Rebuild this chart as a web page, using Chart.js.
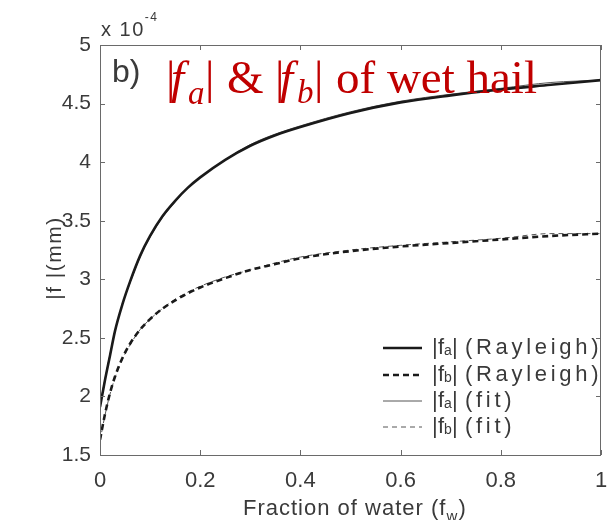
<!DOCTYPE html>
<html>
<head>
<meta charset="utf-8">
<script src="https://cdn.jsdelivr.net/npm/chart.js@4.4.1/dist/chart.umd.min.js"></script>
<style>
html,body{margin:0;padding:0;background:#fff;}
#wrap{width:608px;height:520px;}
</style>
</head>
<body>
<div id="wrap"><canvas id="c" width="608" height="520"></canvas></div>
<script>
// Data (values in units of 1e-4 mm)
const fractionWater = [0, 0.01, 0.02, 0.03, 0.045, 0.06, 0.08, 0.1, 0.125, 0.15, 0.175, 0.2, 0.25, 0.3, 0.35, 0.4, 0.5, 0.6, 0.7, 0.8, 0.9, 1.0];
const faRayleigh = [1.91, 2.14, 2.35, 2.56, 2.79, 2.98, 3.20, 3.37, 3.54, 3.67, 3.78, 3.87, 4.02, 4.14, 4.23, 4.30, 4.42, 4.51, 4.57, 4.62, 4.66, 4.70];
const fbRayleigh = [1.63, 1.85, 2.03, 2.17, 2.33, 2.45, 2.57, 2.66, 2.75, 2.82, 2.88, 2.93, 3.01, 3.08, 3.13, 3.18, 3.24, 3.28, 3.31, 3.34, 3.37, 3.39];
const faFit = [1.93, 2.15, 2.36, 2.56, 2.79, 2.97, 3.19, 3.36, 3.53, 3.66, 3.78, 3.87, 4.02, 4.15, 4.24, 4.31, 4.43, 4.52, 4.58, 4.63, 4.68, 4.70];
const fbFit = [1.62, 1.84, 2.02, 2.16, 2.32, 2.44, 2.57, 2.66, 2.75, 2.83, 2.89, 2.94, 3.02, 3.08, 3.14, 3.19, 3.25, 3.29, 3.32, 3.35, 3.39, 3.39];
const xTicks = [0, 0.2, 0.4, 0.6, 0.8, 1];
const yTicks = [1.5, 2, 2.5, 3, 3.5, 4, 4.5, 5];
const seriesLabels = [["f","a","(Rayleigh)"],["f","b","(Rayleigh)"],["f","a","(fit)"],["f","b","(fit)"]];

const pts = arr => fractionWater.map((x,i)=>({x:x,y:arr[i]}));
const TXT = '#3a3a3a';
const SANS = '"Liberation Sans", Arial, sans-serif';
const SERIF = '"Liberation Serif", "Times New Roman", serif';

const decor = {
  id:'decor',
  afterDraw(chart){
    const {ctx, chartArea:a, scales:{x,y}} = chart;
    ctx.save();
    ctx.letterSpacing = '0px';
    // box
    ctx.strokeStyle = '#6a6a6a';
    ctx.lineWidth = 1;
    ctx.strokeRect(a.left+0.5, a.top+0.5, a.right-a.left-1, a.bottom-a.top);
    // inward ticks
    ctx.beginPath();
    xTicks.forEach(v=>{
      const px = Math.round(x.getPixelForValue(v))+0.5;
      ctx.moveTo(px,a.bottom); ctx.lineTo(px,a.bottom-5);
      ctx.moveTo(px,a.top); ctx.lineTo(px,a.top+5);
    });
    yTicks.forEach(v=>{
      const py = Math.round(y.getPixelForValue(v))+0.5;
      ctx.moveTo(a.left,py); ctx.lineTo(a.left+5,py);
      ctx.moveTo(a.right,py); ctx.lineTo(a.right-5,py);
    });
    ctx.stroke();
    // exponent label
    ctx.fillStyle = TXT;
    ctx.textBaseline = 'alphabetic';
    ctx.textAlign = 'left';
    ctx.letterSpacing = '1.5px';
    ctx.font = '20px '+SANS;
    ctx.fillText('x 10', 101, 36);
    let w = ctx.measureText('x 10').width;
    ctx.font = '12px '+SANS;
    ctx.fillText('-4', 101+w, 21);
    // b)
    ctx.letterSpacing = '0px';
    ctx.font = '32px '+SANS;
    ctx.fillText('b)', 112, 82);
    // title
    ctx.fillStyle = '#c00000';
    const big = '47px '+SERIF;
    const bigI = 'italic 47px '+SERIF;
    const sub = 'italic 33px '+SERIF;
    const put = (t,f,px,py)=>{ctx.font=f; ctx.fillText(t,px,py);};
    const by = 93;
    put('|',big,166,by); put('f',bigI,171,by); put('a',sub,188,by+11); put('|',big,205,by);
    put('&',big,227,by);
    put('|',big,275,by); put('f',bigI,280,by); put('b',sub,297,by+10); put('|',big,314,by);
    put('of wet hail',big,336,by);
    // y axis title
    ctx.fillStyle = TXT;
    ctx.letterSpacing = '1.5px';
    ctx.save();
    ctx.translate(61, 258);
    ctx.rotate(-Math.PI/2);
    ctx.textAlign='center';
    ctx.font = '21px '+SANS;
    ctx.fillText('|f |(mm)', 0, 0);
    ctx.restore();
    // x axis title
    ctx.letterSpacing = '1px';
    ctx.font = '22px '+SANS;
    ctx.textAlign='left';
    const xt = 'Fraction of water (f';
    const xw = ctx.measureText(xt).width;
    const sx = 243;
    ctx.fillText(xt, sx, 515);
    ctx.font = '15px '+SANS;
    ctx.fillText('w', sx+xw, 521);
    ctx.font = '22px '+SANS;
    ctx.fillText(')', sx+xw+12, 515);
    // legend
    const ds = chart.data.datasets;
    const rows = [348, 375, 401, 427];
    ds.forEach((d,i)=>{
      const ry = rows[i];
      ctx.save();
      ctx.strokeStyle = d.borderColor;
      ctx.lineWidth = d.borderWidth;
      ctx.setLineDash(d.borderDash||[]);
      ctx.beginPath(); ctx.moveTo(383, ry); ctx.lineTo(422, ry); ctx.stroke();
      ctx.restore();
      const L = seriesLabels[i];
      ctx.fillStyle = TXT;
      ctx.textBaseline='middle';
      ctx.letterSpacing = '0px';
      ctx.font = '22px '+SANS;
      ctx.fillText('|', 432, ry);
      ctx.fillText(L[0], 438, ry);
      ctx.font = '14px '+SANS;
      ctx.fillText(L[1], 444, ry+3);
      ctx.font = '22px '+SANS;
      ctx.fillText('|', 452, ry);
      ctx.letterSpacing = '3.7px';
      ctx.fillText(L[2], 465, ry);
    });
    ctx.restore();
  }
};

new Chart(document.getElementById('c'), {
  type:'line',
  data:{
    datasets:[
      {label:'|fa| (Rayleigh)', data:pts(faRayleigh), borderColor:'#1a1a1a', borderWidth:2.6, pointRadius:0, cubicInterpolationMode:'monotone'},
      {label:'|fb| (Rayleigh)', data:pts(fbRayleigh), borderColor:'#1a1a1a', borderWidth:2.6, borderDash:[6,4], pointRadius:0, cubicInterpolationMode:'monotone'},
      {label:'|fa| (fit)', data:pts(faFit), borderColor:'#555555', borderWidth:1, pointRadius:0, cubicInterpolationMode:'monotone'},
      {label:'|fb| (fit)', data:pts(fbFit), borderColor:'#555555', borderWidth:1, borderDash:[5,4], pointRadius:0, cubicInterpolationMode:'monotone'}
    ]
  },
  options:{
    responsive:false, animation:false,
    layout:{padding:{top:45,right:7,left:0,bottom:0}},
    plugins:{legend:{display:false}, tooltip:{enabled:false}},
    scales:{
      x:{type:'linear', min:0, max:1,
        afterBuildTicks(s){ s.ticks = xTicks.map(v=>({value:v})); },
        afterFit(s){ s.height = 65; s.paddingLeft = 0; s.paddingRight = 0; },
        grid:{display:false, drawTicks:false}, border:{display:false},
        ticks:{padding:13, color:TXT, font:{family:SANS, size:22}, maxRotation:0, autoSkip:false,
          callback:v=>String(v)}
      },
      y:{type:'linear', min:1.5, max:5,
        afterBuildTicks(s){ s.ticks = yTicks.map(v=>({value:v})); },
        afterFit(s){ s.width = 100; s.paddingTop = 0; s.paddingBottom = 0; },
        grid:{display:false, drawTicks:false}, border:{display:false},
        ticks:{padding:9, color:TXT, font:{family:SANS, size:21}, callback:v=>String(v)}
      }
    }
  },
  plugins:[decor]
});
</script>
</body>
</html>
